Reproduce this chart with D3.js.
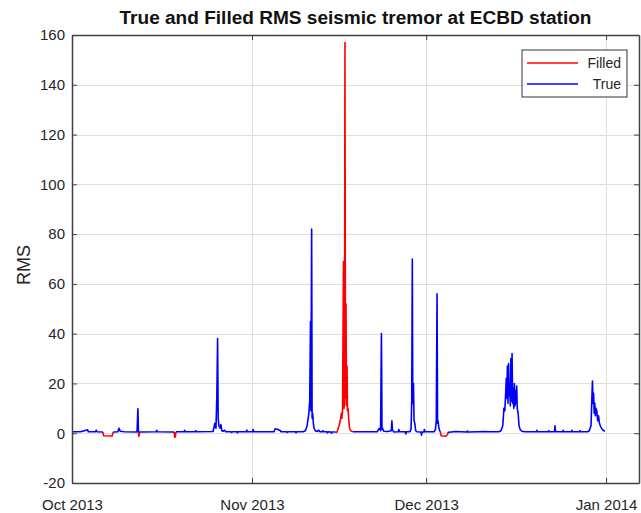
<!DOCTYPE html>
<html>
<head>
<meta charset="utf-8">
<script src="https://cdn.jsdelivr.net/npm/d3@7/dist/d3.min.js"></script>
<style>
  html, body { margin: 0; padding: 0; background: #fff; }
  svg { display: block; font-family: "Liberation Sans", Arial, Helvetica, sans-serif; }
</style>
</head>
<body>
<svg id="chart" width="641" height="513"></svg>
<script>
// Time is given as days elapsed since 1 Oct 2013 00:00.
const startDate = new Date(2013, 9, 1);

// Recorded (true) RMS tremor; null marks a data gap.
const trueDays = [
  0, 1.5, 2.7, 2.8, 4.0, 4.2, 4.3, 5.3, 5.31,
  7.1, 7.9, 8.1, 8.3, 9.0, 11.2, 11.35, 11.45, 11.46,
  11.6, 14.5, 14.6, 14.7, 17.6, 17.61,
  17.9, 19.3, 19.4, 19.5, 21.2, 21.3, 21.4, 24.3, 24.6, 24.8, 24.95, 25.08, 25.18, 25.3, 25.5, 25.65, 25.8,
  26.0, 26.3, 26.5, 27.4, 27.5, 27.6, 28.4, 28.5, 28.6, 30.0, 30.1, 30.2, 31.1, 31.2, 31.3,
  34.8, 35.0, 35.5, 35.9, 36.0, 37.0, 37.1, 37.2, 38.5, 38.6, 38.7, 39.8, 40.2, 40.5, 40.8, 40.95,
  41.08, 41.15, 41.28, 41.36, 41.45, 41.58, 41.7, 41.9, 42.2, 42.5, 42.7, 43.1, 43.2, 43.3,
  43.9, 44.0, 44.1, 44.6, 44.7, 44.8, 45.4, 45.41,
  48.4, 52.6, 52.8, 53.0, 53.15, 53.3, 53.4, 53.5, 53.7, 54.3, 55.0, 55.1, 55.2, 55.4,
  56.2, 56.3, 56.4, 57.4, 57.5, 57.6, 58.2, 58.4, 58.52, 58.62, 58.7, 58.82, 58.92, 59.05, 59.2, 59.4,
  60.1, 60.2, 60.3, 60.6, 60.7, 60.8, 62.4, 62.6, 62.75, 62.88, 62.97, 63.05, 63.2, 63.35, 63.45, 63.46,
  64.8, 65.0, 66.0, 68.0, 68.1, 68.2, 70.0, 71.0, 72.0, 73.5, 73.9, 74.2, 74.4, 74.55, 74.7, 74.8, 74.9,
  75.0, 75.1, 75.2, 75.3, 75.4, 75.5, 75.6, 75.7, 75.8, 75.9, 76.0, 76.1, 76.2, 76.3, 76.4, 76.5, 76.6,
  76.7, 76.85, 77.0, 77.2, 77.5, 78.0, 80.0, 80.1, 80.2, 82.0, 82.1, 82.2, 83.1, 83.2, 83.3,
  84.5, 84.6, 84.7, 86.0, 86.1, 86.2, 87.4, 87.5, 87.6, 88.8, 89.1, 89.4, 89.55, 89.65, 89.75,
  89.85, 89.95, 90.05, 90.15, 90.25, 90.4, 90.55, 90.7, 90.85, 91.0, 91.2, 91.5, 91.8
];
const trueRms = [
  0.6, 0.6, 1.4, 0.6, 0.6, 1.2, 0.6, 0.5, null,
  0.5, 0.6, 2.0, 0.8, 0.6, 0.5, 9.8, 0.4, null,
  0.5, 0.6, 1.2, 0.6, 0.5, null,
  0.6, 0.6, 1.2, 0.6, 0.6, 1.0, 0.6, 0.7, 4.0, 2.0, 15, 38, 6.0, 3.0, 2.0, 3.5, 1.0,
  0.8, 1.2, 0.6, 0.6, 0.3, 0.6, 0.6, 0.2, 0.6, 0.6, 1.3, 0.6, 0.6, 1.5, 0.6,
  0.6, 1.8, 1.5, 1.0, 0.6, 0.6, 0.3, 0.6, 0.6, 0.2, 0.6, 0.6, 1.0, 3.0, 8.0, 13,
  45, 9.0, 82, 6.0, 8.0, 4.0, 2.0, 1.0, 0.7, 1.2, 0.6, 0.6, 1.0, 0.6,
  0.6, 0.1, 0.6, 0.5, 0.0, 0.5, 0.5, null,
  0.6, 0.6, 1.5, 2.0, 1.0, 40, 1.5, 2.0, 0.8, 0.7, 1.0, 5.0, 1.5, 0.5,
  0.6, 1.5, 0.6, 0.6, -0.3, 0.6, 0.6, 1.5, 13, 70, 12, 20, 5.0, 4.0, 1.0, 0.6,
  0.5, -0.8, 0.5, 0.5, 1.5, 0.6, 0.6, 1.5, 5.0, 56, 4.0, 5.0, 2.0, 1.0, 0.5, null,
  0.5, 0.4, 0.7, 0.5, 0.9, 0.5, 0.6, 0.7, 0.6, 0.6, 1.0, 3.0, 10, 9.0, 16, 22, 14,
  27, 12, 28, 15, 20, 11, 30, 13, 32, 12, 18, 10, 20, 11, 17, 12, 19,
  10, 8.0, 3.0, 1.5, 0.8, 0.6, 0.6, 1.2, 0.6, 0.6, 1.0, 0.6, 0.6, 3.0, 0.6,
  0.6, 1.2, 0.6, 0.6, 1.2, 0.6, 0.6, 1.0, 0.6, 0.6, 1.0, 3.0, 14, 21, 12,
  16, 8.0, 12, 7.0, 10, 9.0, 5.0, 7.0, 4.0, 3.0, 2.0, 1.2, 0.8
];

// Gap-filled RMS, only over the gaps; null separates the filled stretches.
const filledDays = [
  5.3, 5.45, 6.9, 7.1, 7.11,
  11.45, 11.5, 11.58, 11.6, 11.61,
  17.6, 17.68, 17.82, 17.9, 17.91,
  45.4, 45.6, 45.8, 46.0, 46.2, 46.4, 46.5, 46.6, 46.76, 46.85, 46.93, 47.02, 47.1, 47.2, 47.28,
  47.38, 47.45, 47.55, 47.65, 47.8, 48.0, 48.2, 48.4, 48.41,
  63.45, 63.6, 64.4, 64.7, 64.8
];
const filledRms = [
  0.5, -1.0, -1.1, 0.5, null,
  0.4, -1.2, -1.0, 0.5, null,
  0.5, -1.6, -1.4, 0.6, null,
  0.5, 0.3, 1.5, 3.0, 5.0, 8.0, 6.0, 9.0, 69, 10, 12, 157, 14, 52, 11,
  27, 9.0, 10, 6.0, 2.0, 1.0, 0.8, 0.6, null,
  0.5, -1.0, -1.2, -0.5, 0.5
];

const yTicks = [-20, 0, 20, 40, 60, 80, 100, 120, 140, 160];
const monthTicks = [new Date(2013, 9, 1), new Date(2013, 10, 1), new Date(2013, 11, 1), new Date(2014, 0, 1)];
const monthLabels = ["Oct 2013", "Nov 2013", "Dec 2013", "Jan 2014"];
const seriesNames = ["Filled", "True"];
const seriesColors = ["#ff0000", "#0000ff"];

const toDate = d => new Date(startDate.getTime() + d * 86400000);

const svg = d3.select("#chart");
const margin = { left: 72, right: 2, top: 35, bottom: 30 };
const W = 641, H = 513;
const x0 = margin.left, x1 = W - margin.right, y0 = margin.top, y1 = H - margin.bottom;

const x = d3.scaleTime()
  .domain([new Date(2013, 9, 1), new Date(2014, 0, 6, 16)])
  .range([x0, x1]);
const y = d3.scaleLinear().domain([-20, 160]).range([y1, y0]);

// grid
const grid = svg.append("g").attr("stroke", "#dedede").attr("stroke-width", 1);
grid.selectAll("line.gy").data(yTicks).join("line")
  .attr("x1", x0).attr("x2", x1)
  .attr("y1", d => Math.round(y(d)) + 0.5).attr("y2", d => Math.round(y(d)) + 0.5);
grid.selectAll("line.gx").data(monthTicks).join("line")
  .attr("x1", d => Math.round(x(d)) + 0.5).attr("x2", d => Math.round(x(d)) + 0.5)
  .attr("y1", y0).attr("y2", y1);

// series
svg.append("clipPath").attr("id", "plotClip")
  .append("rect").attr("x", x0).attr("y", y0).attr("width", x1 - x0).attr("height", y1 - y0);

function pts(days, vals) { return days.map((d, i) => [toDate(d), vals[i]]); }
const line = d3.line()
  .defined(d => d[1] !== null)
  .x(d => x(d[0])).y(d => y(d[1]));

const plot = svg.append("g").attr("clip-path", "url(#plotClip)");
plot.append("path").datum(pts(filledDays, filledRms))
  .attr("d", line).attr("fill", "none").attr("stroke", seriesColors[0])
  .attr("stroke-width", 1.6).attr("stroke-linejoin", "round");
plot.append("path").datum(pts(trueDays, trueRms))
  .attr("d", line).attr("fill", "none").attr("stroke", seriesColors[1])
  .attr("stroke-width", 1.6).attr("stroke-linejoin", "round");

// axes (box with inward ticks on all sides)
const axisColor = "#404040";
const tickFmt = (d, i) => monthLabels[i];
const axBottom = svg.append("g").attr("transform", `translate(0,${y1})`)
  .call(d3.axisBottom(x).tickValues(monthTicks).tickFormat(tickFmt).tickSizeInner(-5).tickSizeOuter(0).tickPadding(12));
const axTop = svg.append("g").attr("transform", `translate(0,${y0})`)
  .call(d3.axisTop(x).tickValues(monthTicks).tickFormat("").tickSizeInner(-5).tickSizeOuter(0));
const axLeft = svg.append("g").attr("transform", `translate(${x0},0)`)
  .call(d3.axisLeft(y).tickValues(yTicks).tickFormat(d => String(d)).tickSizeInner(-5).tickSizeOuter(0).tickPadding(7));
const axRight = svg.append("g").attr("transform", `translate(${x1},0)`)
  .call(d3.axisRight(y).tickValues(yTicks).tickFormat("").tickSizeInner(-5).tickSizeOuter(0));

[axBottom, axTop, axLeft, axRight].forEach(g => {
  g.select(".domain").attr("stroke", axisColor).attr("stroke-width", 1.5);
  g.selectAll(".tick line").attr("stroke", axisColor).attr("stroke-width", 1);
  g.selectAll(".tick text").attr("fill", "#262626").style("font-size", "15px")
    .style("font-family", "'Liberation Sans', Arial, sans-serif");
});
axBottom.selectAll(".tick text").attr("dy", "1em");

// title and axis label
svg.append("text").attr("x", (x0 + x1) / 2).attr("y", 24)
  .attr("text-anchor", "middle").attr("font-weight", "bold").attr("font-size", 18).attr("fill", "#111")
  .attr("textLength", 472).attr("lengthAdjust", "spacingAndGlyphs")
  .text("True and Filled RMS seismic tremor at ECBD station");
svg.append("text").attr("transform", `translate(24,265) rotate(-90)`)
  .attr("text-anchor", "middle").attr("dy", "0.35em").attr("font-size", 18).attr("fill", "#262626")
  .text("RMS");

// legend
const lg = svg.append("g").attr("transform", "translate(522,50)");
lg.append("rect").attr("width", 105).attr("height", 47)
  .attr("fill", "#fff").attr("stroke", "#333").attr("stroke-width", 1);
seriesNames.forEach((n, i) => {
  const yy = 13 + i * 21;
  lg.append("line").attr("x1", 5).attr("x2", 56).attr("y1", yy).attr("y2", yy)
    .attr("stroke", seriesColors[i]).attr("stroke-width", 1.5);
  lg.append("text").attr("x", 99).attr("y", yy).attr("dy", "0.35em")
    .attr("text-anchor", "end").attr("font-size", 14).attr("fill", "#262626").text(n);
});
</script>
</body>
</html>
